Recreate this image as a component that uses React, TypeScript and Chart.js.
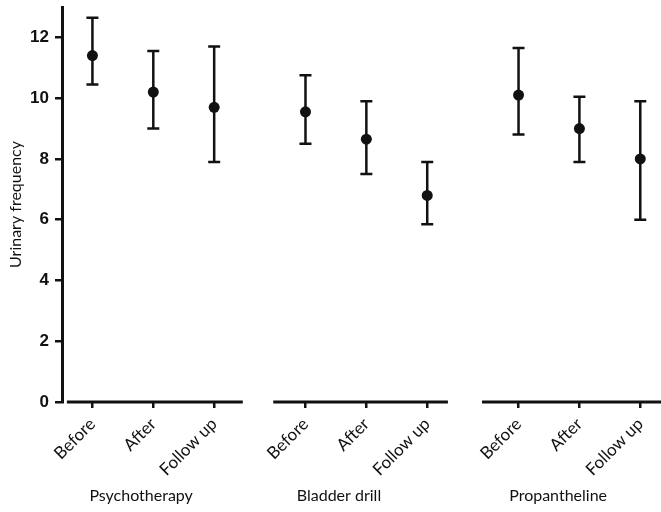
import React, { useEffect, useRef } from 'react';
import { Chart, registerables } from 'chart.js';

Chart.register(...registerables);

// ---- data ----
const groups = ['Psychotherapy', 'Bladder drill', 'Propantheline'];
const phases = ['Before', 'After', 'Follow up'];

const meanPsychotherapy = [11.4, 10.2, 9.7];
const upperPsychotherapy = [12.65, 11.55, 11.7];
const lowerPsychotherapy = [10.45, 9.0, 7.9];

const meanBladderDrill = [9.55, 8.65, 6.8];
const upperBladderDrill = [10.75, 9.9, 7.9];
const lowerBladderDrill = [8.5, 7.5, 5.85];

const meanPropantheline = [10.1, 9.0, 8.0];
const upperPropantheline = [11.65, 10.05, 9.9];
const lowerPropantheline = [8.8, 7.9, 6.0];

const yTicks = [0, 2, 4, 6, 8, 10, 12];

// ---- layout (x positions in axis units) ----
const groupStart = [0, 3.5, 7];
const axisSegments = [
  [-0.42, 2.47],
  [2.97, 5.84],
  [6.4, 9.5],
];
const groupLabelX = [0.8, 4.05, 7.65];
const INK = '#111';

const means = [meanPsychotherapy, meanBladderDrill, meanPropantheline];
const uppers = [upperPsychotherapy, upperBladderDrill, upperPropantheline];
const lowers = [lowerPsychotherapy, lowerBladderDrill, lowerPropantheline];

export default function App() {
  const ref = useRef<HTMLCanvasElement | null>(null);

  useEffect(() => {
    document.body.style.margin = '0';
    const canvas = ref.current;
    if (!canvas) return;

    const points: { x: number; y: number; lo: number; hi: number }[] = [];
    const tickPositions: number[] = [];
    const tickLabels: Record<string, string> = {};
    groups.forEach((_, g) => {
      phases.forEach((p, i) => {
        const x = groupStart[g] + i;
        tickPositions.push(x);
        tickLabels[String(x)] = p;
        points.push({ x, y: means[g][i], lo: lowers[g][i], hi: uppers[g][i] });
      });
    });

    const decor = {
      id: 'decor',
      beforeDatasetsDraw(chart: any) {
        const ctx = chart.ctx;
        const xs = chart.scales.x;
        const ys = chart.scales.y;
        ctx.save();
        ctx.strokeStyle = INK;
        // broken x axis segments
        ctx.lineWidth = 3;
        const y0 = ys.getPixelForValue(0);
        axisSegments.forEach(([a, b]) => {
          ctx.beginPath();
          ctx.moveTo(xs.getPixelForValue(a), y0);
          ctx.lineTo(Math.min(xs.getPixelForValue(b), chart.width), y0);
          ctx.stroke();
        });
        // error bars
        ctx.lineWidth = 2.5;
        const cap = 6;
        points.forEach((pt) => {
          const px = xs.getPixelForValue(pt.x);
          const pHi = ys.getPixelForValue(pt.hi);
          const pLo = ys.getPixelForValue(pt.lo);
          ctx.beginPath();
          ctx.moveTo(px, pHi);
          ctx.lineTo(px, pLo);
          ctx.moveTo(px - cap, pHi);
          ctx.lineTo(px + cap, pHi);
          ctx.moveTo(px - cap, pLo);
          ctx.lineTo(px + cap, pLo);
          ctx.stroke();
        });
        ctx.restore();
      },
      afterDraw(chart: any) {
        const ctx = chart.ctx;
        const xs = chart.scales.x;
        ctx.save();
        ctx.fillStyle = INK;
        ctx.font = '16px Lato';
        ctx.textAlign = 'center';
        ctx.textBaseline = 'middle';
        groups.forEach((g, i) => {
          ctx.fillText(g, xs.getPixelForValue(groupLabelX[i]), 496);
        });
        ctx.restore();
      },
    };

    const chart = new Chart(canvas, {
      type: 'scatter',
      data: {
        datasets: [
          {
            data: points.map((p) => ({ x: p.x, y: p.y })),
            pointRadius: 5.5,
            pointBackgroundColor: INK,
            pointBorderWidth: 0,
            showLine: false,
          },
        ],
      },
      plugins: [decor],
      options: {
        responsive: false,
        animation: false,
        layout: { padding: { top: 7, right: 0, bottom: 0, left: 0 } },
        plugins: {
          legend: { display: false },
          tooltip: { enabled: false },
        },
        scales: {
          x: {
            type: 'linear',
            min: -0.5,
            max: 9.25,
            afterBuildTicks: (scale: any) => {
              scale.ticks = tickPositions.map((v) => ({ value: v }));
            },
            afterFit: (scale: any) => {
              scale.height = 110;
              scale.paddingLeft = 0;
              scale.paddingRight = 0;
            },
            border: { display: false },
            grid: {
              drawOnChartArea: false,
              drawTicks: true,
              tickLength: 6,
              color: INK,
              lineWidth: 2.5,
            },
            ticks: {
              autoSkip: false,
              minRotation: 45,
              maxRotation: 45,
              padding: 6,
              color: INK,
              font: { family: 'Lato', size: 17 },
              callback: (v: any) => tickLabels[String(v)] ?? '',
            },
          },
          y: {
            type: 'linear',
            min: 0,
            max: 13,
            afterBuildTicks: (scale: any) => {
              scale.ticks = yTicks.map((v) => ({ value: v }));
            },
            afterFit: (scale: any) => {
              scale.width = 62;
              scale.paddingTop = 0;
              scale.paddingBottom = 0;
            },
            border: { display: true, color: INK, width: 3 },
            grid: {
              drawOnChartArea: false,
              drawTicks: true,
              tickLength: 7,
              color: INK,
              lineWidth: 2.5,
            },
            ticks: {
              padding: 6,
              color: INK,
              font: { family: 'Liberation Sans', size: 17, weight: 'bold' },
              callback: (v: any) => String(v),
            },
            title: {
              display: true,
              text: 'Urinary frequency',
              color: INK,
              font: { family: 'Lato', size: 16 },
              padding: { top: 6, bottom: 0 },
            },
          },
        },
      },
    } as any);

    return () => chart.destroy();
  }, []);

  return (
    <div style={{ width: 661, height: 512 }}>
      <canvas ref={ref} width={661} height={512} />
    </div>
  );
}
